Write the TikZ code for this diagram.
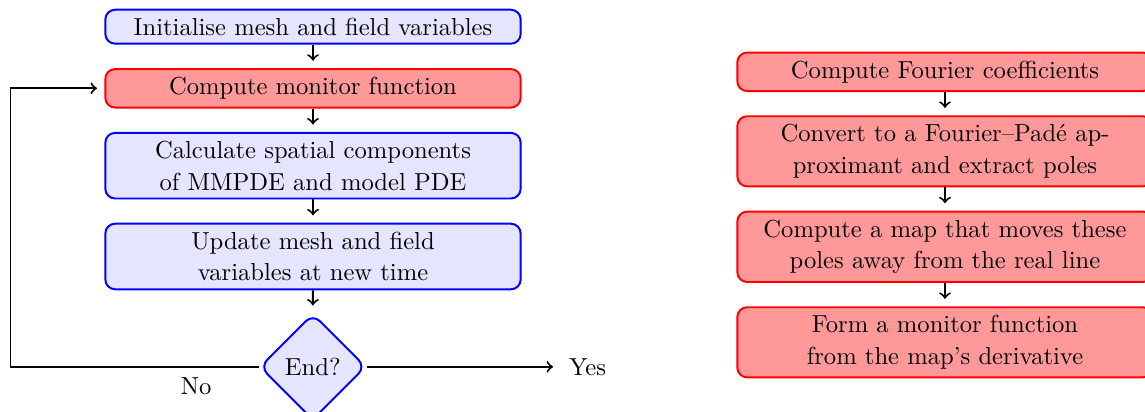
\documentclass[tikz,border=0pt]{standalone}
\usetikzlibrary{shapes.geometric}
\begin{document}
\begin{tikzpicture}[x=0.4065pt,y=-0.4065pt,
  blk/.style={rectangle,draw=blue,fill=blue!10,thick,rounded corners,text width=5.7cm,align=center,font=\fontsize{10}{12.85}\selectfont},
  redblk/.style={blk,draw=red,fill=red!40},
  dec/.style={diamond,draw=blue,fill=blue!10,thick,rounded corners,aspect=1},
  conn/.style={->,thick,shorten >=3pt},
  lbl/.style={inner sep=3.33pt}]
\useasboundingbox (0,0) rectangle (1145,412);
% left flow
\node[blk] (b1) at (313,26.7) {Initialise mesh and field variables};
\node[redblk] (b2) at (313,88.3) {Compute monitor function};
\node[blk] (b3) at (313,165.7) {Calculate spatial components\\ of MMPDE and model PDE};
\node[blk] (b4) at (313,256.5) {Update mesh and field\\ variables at new time};
\node[dec] (d) at (312.8,366.8) {End?};
\node[lbl,anchor=west] (yes) at (560.4,366.8) {Yes};
\node[lbl] (no) at (196,386) {No};
\coordinate (lc) at (10.5,366.8);
\draw[conn] (b1) -- (b2);
\draw[conn] (b2) -- (b3);
\draw[conn] (b3) -- (b4);
\draw[conn] (b4) -- (d);
\draw[conn] (d.east) -- (yes.west);
\draw[conn] (d.west) -- (lc) |- (b2.west);
% right flow
\node[redblk] (r1) at (945,71.8) {Compute Fourier coefficients};
\node[redblk] (r2) at (945,151.3) {Convert to a Fourier--Padé ap-\\proximant and extract poles};
\node[redblk] (r3) at (945,246.8) {Compute a map that moves these\\ poles away from the real line};
\node[redblk] (r4) at (945,342.3) {Form a monitor function\\ from the map's derivative};
\draw[conn] (r1) -- (r2);
\draw[conn] (r2) -- (r3);
\draw[conn] (r3) -- (r4);
\end{tikzpicture}
\end{document}
